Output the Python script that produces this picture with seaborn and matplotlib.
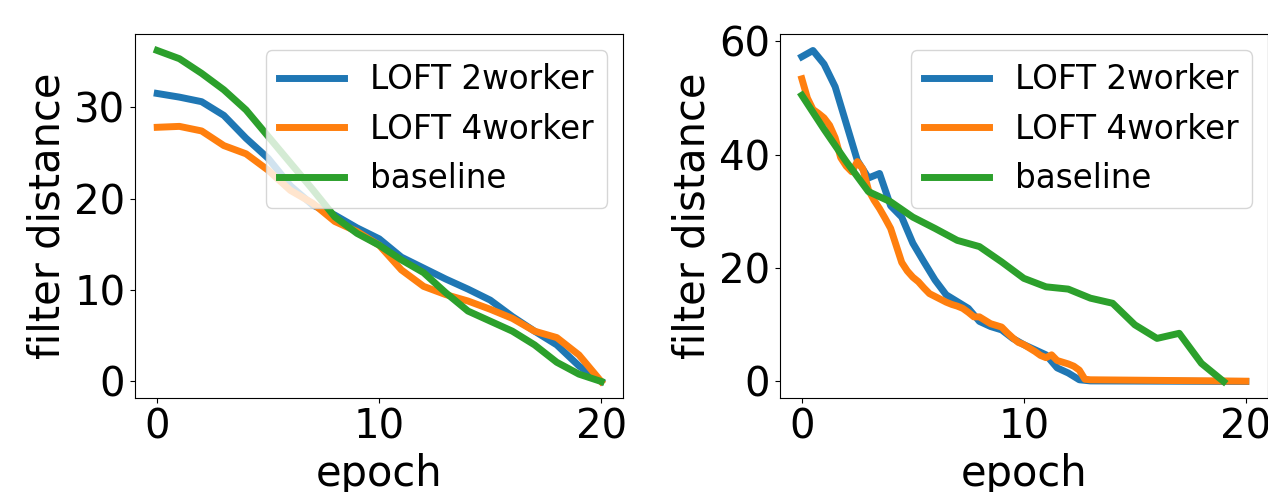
import numpy as np
import pandas as pd
import seaborn as sns
import matplotlib
matplotlib.use("Agg")
import matplotlib.pyplot as plt

labels = ["LOFT 2worker", "LOFT 4worker", "baseline"]
colors = ["#1f77b4", "#ff7f0e", "#2ca02c"]

# left panel: one value per epoch
left_epoch = list(range(21))
left_2worker = [31.5, 31.1, 30.6, 29.1, 26.6, 24.4, 21.4, 19.3, 18.2, 16.8, 15.6,
                13.6, 12.4, 11.2, 10.1, 8.9, 7.1, 5.5, 4.0, 1.7, 0.0]
left_4worker = [27.8, 27.9, 27.4, 25.8, 24.9, 23.1, 20.9, 19.5, 17.5, 16.4, 14.9,
                12.2, 10.4, 9.5, 8.8, 7.9, 6.9, 5.5, 4.8, 2.9, 0.0]
left_baseline = [36.2, 35.3, 33.7, 31.9, 29.7, 26.8, 23.9, 21.0, 18.0, 16.2, 14.9,
                 13.3, 11.9, 9.7, 7.7, 6.6, 5.5, 4.0, 2.1, 0.8, 0.0]

# right panel: finer logging for the LOFT runs
right_2worker_epoch = list(np.arange(0, 13.5, 0.5)) + [20]
right_2worker = [57.3, 58.4, 56.0, 52.0, 45.5, 39.0, 35.9, 36.7, 31.0, 29.0, 24.4,
                 21.1, 17.9, 15.3, 14.1, 12.9, 10.6, 9.7, 9.1, 7.6, 6.5, 5.6, 4.7,
                 2.4, 1.5, 0.3, 0.1, 0.0]
right_4worker_epoch = list(np.arange(0, 13.25, 0.25)) + [20]
right_4worker = [53.4, 50.0, 48.0, 47.3, 46.5, 45.2, 43.0, 39.5, 38.0, 37.0, 38.8,
                 37.5, 33.8, 32.0, 30.5, 28.8, 27.0, 24.0, 21.0, 19.5, 18.4, 17.6,
                 16.5, 15.5, 15.0, 14.5, 14.0, 13.6, 13.3, 12.9, 12.2, 11.4, 11.4,
                 10.8, 10.2, 9.9, 9.6, 8.6, 7.7, 6.9, 6.5, 5.9, 5.3, 4.6, 4.2, 4.7,
                 3.7, 3.4, 3.1, 2.7, 2.0, 0.4, 0.3, 0.05]
right_baseline_epoch = list(range(20))
right_baseline = [50.5, 44.5, 38.8, 33.5, 31.7, 29.0, 27.0, 24.9, 23.8, 21.1, 18.2,
                  16.7, 16.3, 14.7, 13.8, 10.0, 7.6, 8.5, 3.2, 0.0]

panels = [
    [(left_epoch, left_2worker), (left_epoch, left_4worker), (left_epoch, left_baseline)],
    [(right_2worker_epoch, right_2worker), (right_4worker_epoch, right_4worker),
     (right_baseline_epoch, right_baseline)],
]

fig, axes = plt.subplots(1, 2, figsize=(12.68, 4.92), dpi=100)
fig.subplots_adjust(left=0.1065, right=1.0, bottom=0.191, top=0.931, wspace=0.32)

for ax, series in zip(axes, panels):
    for (x, y), lab, col in zip(series, labels, colors):
        df = pd.DataFrame({"epoch": x, "dist": y})
        sns.lineplot(data=df, x="epoch", y="dist", ax=ax, color=col, linewidth=5, label=lab)
    ax.set_xlabel("epoch", fontsize=30)
    ax.set_ylabel("filter distance", fontsize=30)
    ax.tick_params(labelsize=29)
    ax.set_xticks([0, 10, 20])
    ax.legend(loc="upper right", fontsize=23.5)

fig.savefig("out.png")
